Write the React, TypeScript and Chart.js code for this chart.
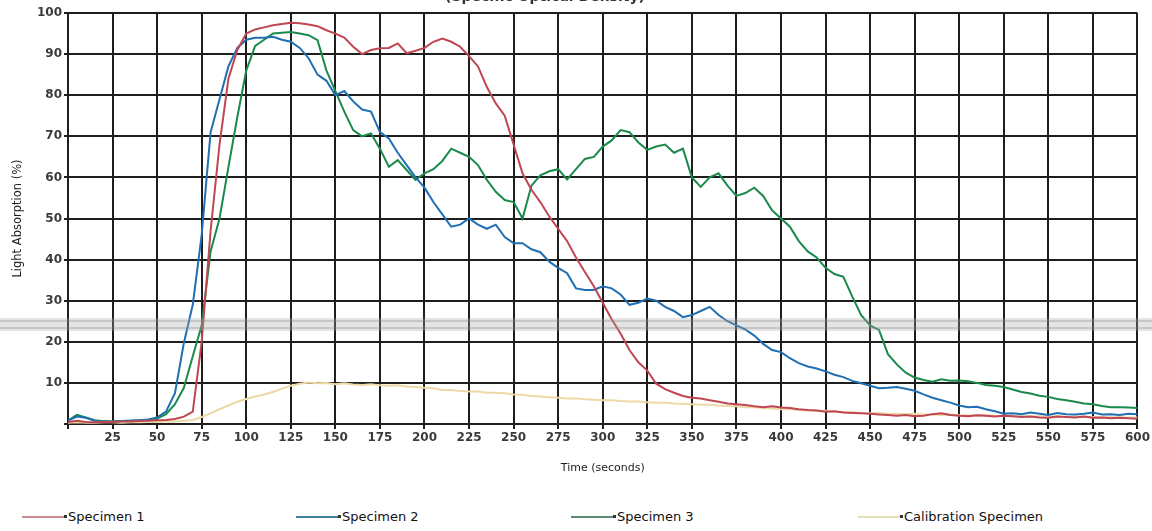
import React, { useEffect, useRef } from "react";
import { Chart, registerables } from "chart.js";

Chart.register(...registerables);

const TIMES = [
  0, 5, 10, 15, 20, 25, 30, 35, 40, 45,
  50, 55, 60, 65, 70, 75, 80, 85, 90, 95,
  100, 105, 110, 115, 120, 125, 130, 135, 140, 145,
  150, 155, 160, 165, 170, 175, 180, 185, 190, 195,
  200, 205, 210, 215, 220, 225, 230, 235, 240, 245,
  250, 255, 260, 265, 270, 275, 280, 285, 290, 295,
  300, 305, 310, 315, 320, 325, 330, 335, 340, 345,
  350, 355, 360, 365, 370, 375, 380, 385, 390, 395,
  400, 405, 410, 415, 420, 425, 430, 435, 440, 445,
  450, 455, 460, 465, 470, 475, 480, 485, 490, 495,
  500, 505, 510, 515, 520, 525, 530, 535, 540, 545,
  550, 555, 560, 565, 570, 575, 580, 585, 590, 595,
  600,
];

const SPECIMEN_1 = [
  0.5, 0.8, 0.5, 0.4, 0.5, 0.5, 0.6, 0.6, 0.7, 0.8,
  0.9, 1.0, 1.2, 1.8, 3.0, 20, 47, 68, 84, 91,
  95, 96, 96.5, 97, 97.3, 97.6, 97.5, 97.2, 96.8, 95.8,
  95, 94, 91.8, 90, 91, 91.4, 91.5, 92.6, 90.2, 90.8,
  91.5, 93, 93.8, 93, 91.8, 89.5, 87, 82, 78, 75,
  68, 61, 57, 54, 50.5, 47.5, 44.5, 40.5, 37, 33.5,
  29.5, 25.5, 22, 18, 15, 13, 9.8, 8.5, 7.6, 6.8,
  6.4, 6.2, 5.8, 5.4, 5, 4.8, 4.6, 4.3, 4.1, 4.3,
  4, 3.9, 3.6, 3.4, 3.3, 3, 3.1, 2.8, 2.7, 2.6,
  2.5, 2.3, 2.2, 2.0, 2.2, 1.9, 2.0, 2.4, 2.6, 2.2,
  2.0, 1.9, 2.1, 2.0, 1.8, 2.0, 1.9, 1.7, 1.8, 1.6,
  1.5, 1.8, 1.7, 1.6, 1.8, 1.5, 1.6, 1.4, 1.5, 1.4,
  1.3,
];

const SPECIMEN_2 = [
  0.8, 1.8, 1.5, 0.8, 0.6, 0.6, 0.7, 0.8, 0.9, 1.1,
  1.6, 3.0, 7.5, 19.7, 29, 46, 71, 79, 87, 91.5,
  93.5, 94, 94, 94.2, 93.5, 93, 91.5, 89, 85, 83.5,
  80, 81, 78.5, 76.5, 76, 71, 69.5, 66, 63, 60,
  57.5, 54, 51, 48, 48.5, 50, 48.5, 47.5, 48.5, 45.5,
  44, 44, 42.5, 41.8, 39.5, 38, 36.7, 33, 32.6, 32.6,
  33.5, 33, 31.5, 29, 29.5, 30.5, 30, 28.5, 27.5, 26,
  26.5, 27.5, 28.5, 26.5, 25, 24, 23, 21.5, 19.5, 18,
  17.5, 16, 14.8, 14, 13.5, 12.8, 12, 11.4, 10.5, 9.9,
  9.3, 8.7, 8.8, 9, 8.6, 8.1, 7.2, 6.4, 5.8, 5.2,
  4.5, 4.1, 4.2, 3.6, 3.1, 2.5, 2.6, 2.4, 2.8, 2.5,
  2.2, 2.7, 2.4, 2.3, 2.5, 2.8, 2.3, 2.4, 2.2, 2.5,
  2.4,
];

const SPECIMEN_3 = [
  0.8, 2.2, 1.6, 0.9, 0.7, 0.6, 0.7, 0.8, 0.9, 1.0,
  1.3, 2.4, 4.8, 8.8, 16.5, 24, 42, 50, 62.5, 74.7,
  86, 92, 93.5, 95, 95.2, 95.4, 95, 94.6, 93.4, 86,
  81, 76, 71.5, 70, 70.7, 67, 62.6, 64.2, 61.8, 59.4,
  61, 62, 64, 67, 66, 65, 63, 59.4, 56.5, 54.5,
  54, 50, 58, 60.5, 61.5, 62, 59.5, 62, 64.5, 65,
  67.5, 69, 71.5, 71, 68.5, 66.7, 67.5, 68, 66, 67,
  60, 57.7, 60, 61, 58, 55.5, 56.2, 57.5, 55.5, 52,
  50, 48, 44.5, 42, 40.5, 38, 36.5, 35.8, 31, 26.5,
  24, 22.9, 17, 14.5, 12.5, 11.3, 10.7, 10.3, 10.9, 10.5,
  10.6, 10.4, 10, 9.5, 9.3, 9, 8.4, 7.8, 7.4, 6.9,
  6.6, 6.1, 5.8, 5.4, 5, 4.8, 4.4, 4.1, 4.1, 4.0,
  3.9,
];

const CALIBRATION = [
  0.3, 0.4, 0.3, 0.3, 0.4, 0.4, 0.3, 0.4, 0.4, 0.5,
  0.5, 0.6, 0.6, 0.8, 1.0, 1.7, 2.6, 3.6, 4.5, 5.4,
  6.1, 6.7, 7.2, 7.8, 8.6, 9.3, 9.8, 10.1, 9.9, 10,
  9.7, 9.9, 9.6, 9.5, 9.7, 9.4, 9.3, 9.4, 9.1, 9.0,
  8.8, 8.7, 8.3, 8.3, 8.0, 7.9, 7.9, 7.6, 7.6, 7.5,
  7.2, 7.1, 6.8, 6.7, 6.5, 6.4, 6.2, 6.2, 6.0, 5.9,
  5.8, 5.8, 5.6, 5.5, 5.5, 5.3, 5.2, 5.2, 5.0, 4.9,
  4.8, 4.7, 4.7, 4.5, 4.4, 4.3, 4.1, 4.1, 3.9, 3.8,
  3.6, 3.6, 3.4, 3.3, 3.2, 3.2, 3.0, 2.9, 2.9, 2.7,
  2.6, 2.7, 2.5, 2.5, 2.4, 2.5, 2.3, 2.3, 2.2, 2.3,
  2.1, 2.1, 2.0, 2.1, 2.0, 1.9, 2.0, 1.9, 1.8, 1.9,
  1.8, 1.8, 1.7, 1.8, 1.7, 1.7, 1.6, 1.7, 1.6, 1.6,
  1.6,
];

const SERIES_NAMES = ["Specimen 1", "Specimen 2", "Specimen 3", "Calibration Specimen"];
const SERIES_COLORS = ["#bf4652", "#1f6fb2", "#1a8a4c", "#ecd9a6"];
const LEGEND_SWATCH = ["#c98a8e", "#3f7f9c", "#5c8c74", "#e4e2b8"];
const LEGEND_X = [22, 296, 571, 858];

const X_TITLE = "Time (seconds)";
const Y_TITLE = "Light Absorption (%)";
const TOP_TEXT = "(Specific Optical Density)";

const scanBand = {
  id: "scanBand",
  afterDraw(chart: any) {
    const ctx = chart.ctx;
    ctx.save();
    ctx.fillStyle = "rgba(165,165,165,0.30)";
    ctx.fillRect(0, 318, chart.width, 13);
    ctx.fillStyle = "rgba(130,130,130,0.30)";
    ctx.fillRect(0, 320, chart.width, 2);
    ctx.fillRect(0, 327, chart.width, 2);
    ctx.fillStyle = "#333";
    ctx.font = "bold 14px 'DejaVu Sans', sans-serif";
    ctx.textAlign = "center";
    ctx.textBaseline = "alphabetic";
    ctx.fillText(TOP_TEXT, 545, 1);
    ctx.restore();
  },
};

export default function App() {
  const ref = useRef<HTMLCanvasElement | null>(null);

  useEffect(() => {
    if (!ref.current) return;
    const all = [SPECIMEN_1, SPECIMEN_2, SPECIMEN_3, CALIBRATION];
    const datasets = all.map((vals, i) => ({
      label: SERIES_NAMES[i],
      data: vals.map((v, k) => ({ x: TIMES[k], y: v })),
      borderColor: SERIES_COLORS[i],
      backgroundColor: SERIES_COLORS[i],
      borderWidth: 2,
      pointRadius: 0,
      tension: 0,
      fill: false,
    }));
    const gridColor = "#1e1e1e";
    const tickFont = { family: "'DejaVu Sans', Verdana, sans-serif", size: 12, weight: "bold" as const };
    const chart = new Chart(ref.current, {
      type: "line",
      data: { datasets },
      plugins: [scanBand],
      options: {
        animation: false,
        responsive: false,
        maintainAspectRatio: false,
        layout: { padding: { top: 13, right: 12, left: 0, bottom: 0 } },
        plugins: {
          legend: { display: false },
          tooltip: { enabled: false },
        },
        scales: {
          x: {
            type: "linear",
            min: 0,
            max: 600,
            afterFit: (s: any) => {
              s.height = 56;
            },
            ticks: {
              stepSize: 25,
              color: "#3a3a3a",
              font: tickFont,
              padding: 2,
              maxRotation: 0,
              autoSkip: false,
              callback: (v: any) => (v === 0 ? "" : String(v)),
            },
            grid: { color: gridColor, lineWidth: 2, tickLength: 5, tickColor: gridColor },
            border: { color: gridColor, width: 2 },
            title: {
              display: true,
              text: X_TITLE,
              color: "#222",
              font: { family: "'DejaVu Sans', Verdana, sans-serif", size: 11 },
              padding: { top: 6, bottom: 5 },
            },
          },
          y: {
            min: 0,
            max: 100,
            afterFit: (s: any) => {
              s.width = 68;
            },
            ticks: {
              stepSize: 10,
              color: "#3a3a3a",
              font: tickFont,
              padding: 2,
              callback: (v: any) => (v === 0 ? "" : String(v)),
            },
            grid: { color: gridColor, lineWidth: 2, tickLength: 4, tickColor: gridColor },
            border: { color: gridColor, width: 2 },
            title: {
              display: true,
              text: Y_TITLE,
              color: "#222",
              font: { family: "'DejaVu Sans', Verdana, sans-serif", size: 11.5 },
              padding: { top: 11, bottom: 0 },
            },
          },
        },
      },
    });
    return () => chart.destroy();
  }, []);

  return (
    <div style={{ position: "fixed", left: 0, top: 0, width: 1152, height: 531, background: "#fff", overflow: "hidden" }}>
      <canvas ref={ref} width={1152} height={480} style={{ display: "block", width: 1152, height: 480 }} />
      {SERIES_NAMES.map((name, i) => (
        <div
          key={name}
          style={{
            position: "absolute",
            left: LEGEND_X[i],
            top: 509,
            display: "flex",
            alignItems: "center",
            fontFamily: "'DejaVu Sans', Verdana, sans-serif",
            fontSize: 13,
            color: "#111",
            whiteSpace: "nowrap",
          }}
        >
          <span style={{ display: "inline-block", width: 42, height: 2, background: LEGEND_SWATCH[i] }} />
          <span style={{ display: "inline-block", width: 3, height: 3, background: "#333", marginRight: 1 }} />
          <span>{name}</span>
        </div>
      ))}
    </div>
  );
}
